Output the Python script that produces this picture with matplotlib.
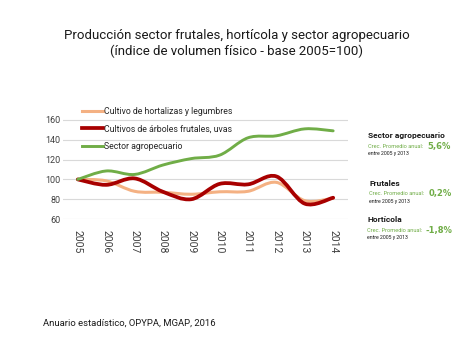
"""
Producción sector frutales, hortícola y sector agropecuario
"""

import matplotlib
matplotlib.use("Agg")
import matplotlib.pyplot as plt
from matplotlib.path import Path
from matplotlib.patches import PathPatch
from matplotlib.lines import Line2D

plt.rcParams['figure.dpi'] = 100
plt.rcParams['font.family'] = ['Roboto', 'DejaVu Sans']

#%%

# Values

years = [2005, 2006, 2007, 2008, 2009, 2010, 2011, 2012, 2013, 2014]

hortalizas = [100, 98.5, 88, 87, 85, 87.5, 88, 97, 78.5, 81]
frutales = [100, 94.5, 101, 87.5, 80, 95.5, 95, 103, 75.5, 81.5]
agro = [100, 108.5, 105, 114.5, 121, 124.5, 142, 144, 151, 149]

labels = ["Cultivo de hortalizas y legumbres",
          "Cultivos de árboles frutales, uvas",
          "Sector agropecuario"]

yticks = [60, 80, 100, 120, 140, 160]

notes = [("Sector agropecuario", "5,6%"),
         ("Frutales", "0,2%"),
         ("Hortícola", "-1,8%")]

#%%

def smooth_path(xs, ys):
    # Catmull-Rom curve through the points, like Excel's smoothed lines
    verts = [(xs[0], ys[0])]
    codes = [Path.MOVETO]
    n = len(xs)
    for i in range(n - 1):
        x0, y0 = (xs[i - 1], ys[i - 1]) if i > 0 else (xs[i], ys[i])
        x1, y1 = xs[i], ys[i]
        x2, y2 = xs[i + 1], ys[i + 1]
        x3, y3 = (xs[i + 2], ys[i + 2]) if i + 2 < n else (x2, y2)
        c1 = (x1 + (x2 - x0) / 6, y1 + (y2 - y0) / 6)
        c2 = (x2 - (x3 - x1) / 6, y2 - (y3 - y1) / 6)
        verts += [c1, c2, (x2, y2)]
        codes += [Path.CURVE4] * 3
    return Path(verts, codes)


fig = plt.figure(figsize=(4.74, 3.55))
ax = fig.add_axes([0.133, 0.383, 0.601, 0.321])

series = [(hortalizas, '#F4B183', 2.2),
          (frutales, '#A80000', 2.7),
          (agro, '#70AD47', 2.1)]

handles = []
for (vals, color, lw), lab in zip(series, labels):
    ax.add_patch(PathPatch(smooth_path(years, vals), fill=False,
                           edgecolor=color, lw=lw, capstyle='round',
                           joinstyle='round', zorder=3))
    handles.append(Line2D([], [], color=color, lw=lw, label=lab))

ax.set_xlim(2004.48, 2014.52)
ax.set_ylim(60, 175)
ax.set_yticks(yticks)
ax.set_xticks(years)
ax.set_xticklabels([str(y) for y in years], rotation=270)
ax.tick_params(length=0, colors='#404040')
ax.tick_params(axis='y', labelsize=6.5, pad=2)
ax.tick_params(axis='x', labelsize=7.5, pad=8)
ax.grid(axis='y', color='#D9D9D9', lw=0.8)
ax.set_axisbelow(True)
for s in ax.spines.values():
    s.set_visible(False)

leg = ax.legend(handles=handles, loc='upper left', bbox_to_anchor=(0.065, 0.985),
                frameon=False, fontsize=6.3, handlelength=2.4, handletextpad=0.15,
                labelspacing=1.0, borderaxespad=0, borderpad=0)
for t in leg.get_texts():
    t.set_color('#262626')

#%%

# Title and source

fig.text(0.5, 0.877, "Producción sector frutales, hortícola y sector agropecuario\n"
         "(índice de volumen físico - base 2005=100)", ha='center', va='center',
         fontsize=9.5, color='#1a1a1a', linespacing=1.25)

fig.text(0.09, 0.09, "Anuario estadístico, OPYPA, MGAP, 2016", fontsize=6.8,
         color='#1a1a1a', va='center')

# Growth notes on the right

name_y = [136, 183, 220]
name_x = [368, 369, 367]
pct_x = [427, 429, 425]
W, H = 474.0, 355.0
for (name, pct), yy, xx, px in zip(notes, name_y, name_x, pct_x):
    fig.text(xx / W, 1 - yy / H, name, fontsize=6, fontweight='bold',
             color='#1a1a1a', va='center')
    fig.text(xx / W, 1 - (yy + 10.5) / H, "Crec. Promedio anual:", fontsize=4.1,
             color='#70AD47', va='center')
    fig.text(px / W, 1 - (yy + 10) / H, pct, fontsize=6, fontweight='bold',
             family='DejaVu Sans', color='#70AD47', va='center')
    fig.text(xx / W, 1 - (yy + 18) / H, "entre 2005 y 2013", fontsize=3.7,
             color='#1a1a1a', va='center')

fig.savefig('out.png', dpi=100)
